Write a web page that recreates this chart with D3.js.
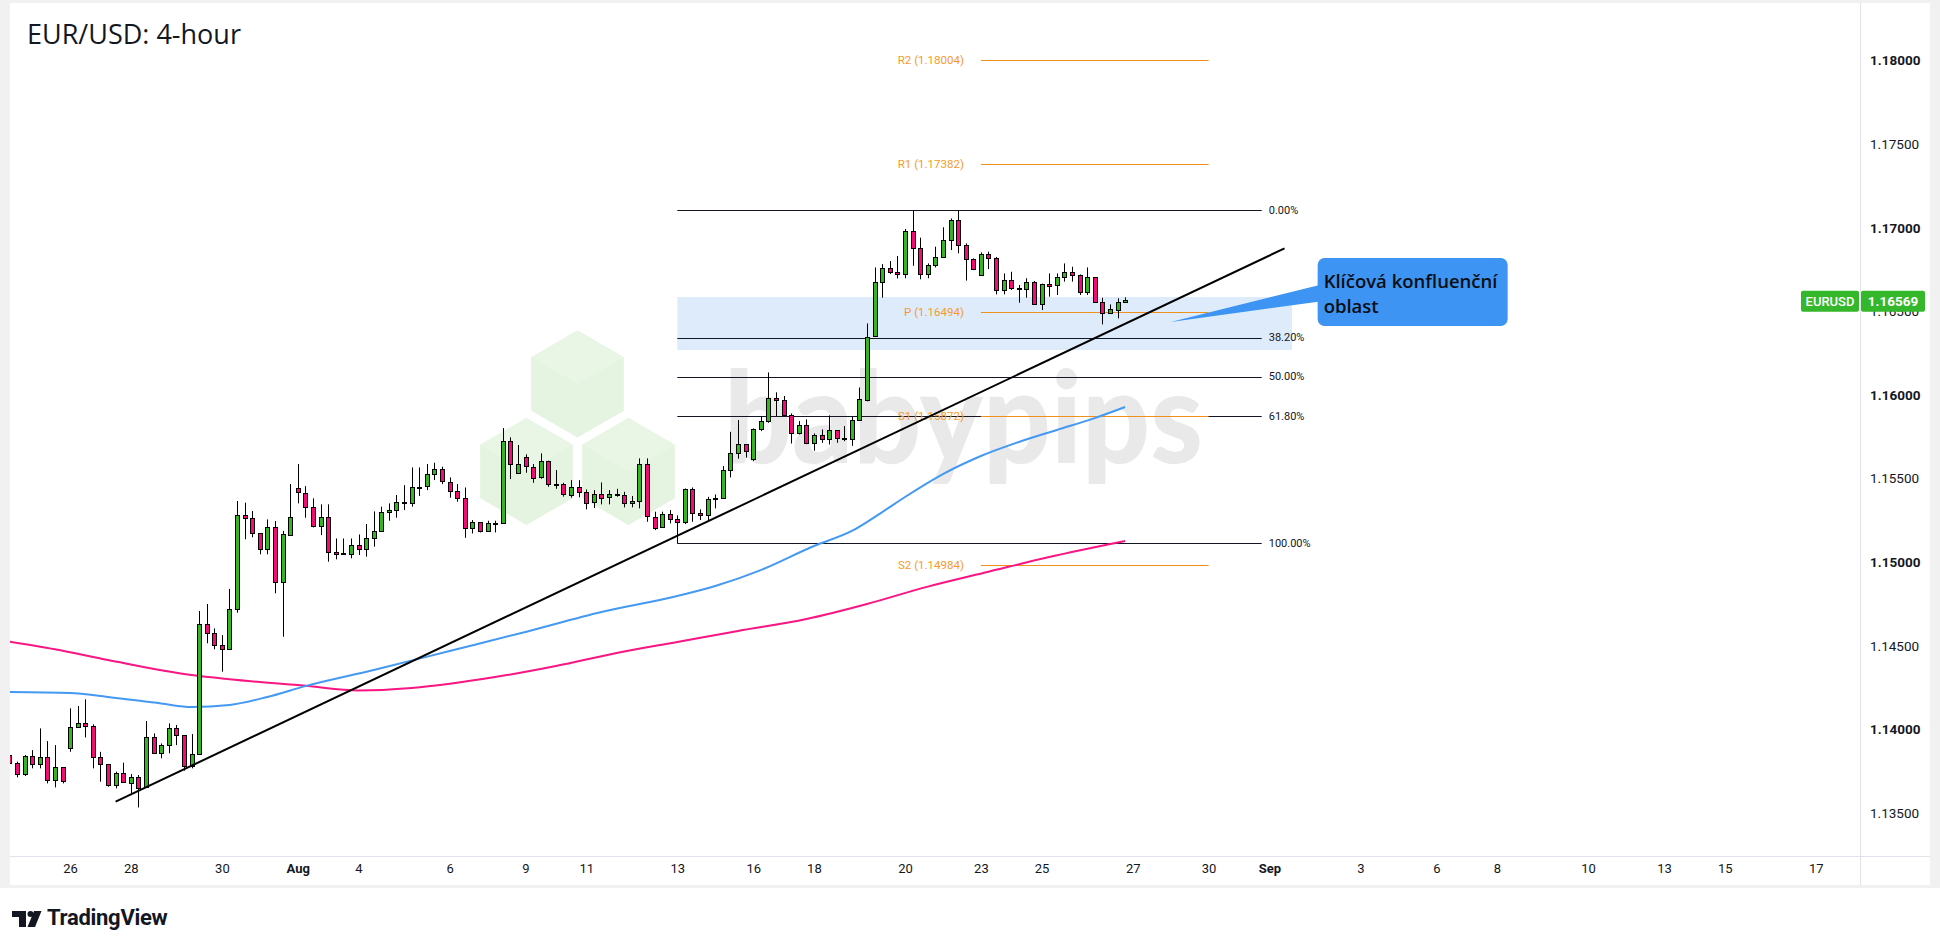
<!DOCTYPE html>
<html lang="en">
<head>
<meta charset="UTF-8">
<title>EUR/USD: 4-hour</title>
<script src="https://d3js.org/d3.v7.min.js"></script>
<style>
  html, body { margin: 0; padding: 0; background: #fff; }
  svg { display: block; }
</style>
</head>
<body>
<div id="chart"></div>
<script>
// 4h candles, bar index 0 = first bar of the "26" label
var firstIdx = -8;
var opens = [1.13847,1.13797,1.13733,1.13841,1.13793,1.13833,1.13697,1.13773,
  1.13886,1.14012,1.14036,1.14020,1.13833,1.13793,1.13667,1.13737,1.13683,1.13717,
  1.13653,1.13952,1.13857,1.13906,1.14006,1.13966,1.13781,1.13853,1.14630,1.14574,
  1.14505,1.14479,1.14718,1.15280,1.15262,1.15173,1.15077,1.15208,1.14879,1.15167,
  1.15442,1.15416,1.15332,1.15218,1.15272,1.15063,1.15053,1.15049,1.15100,1.15077,
  1.15142,1.15184,1.15298,1.15312,1.15358,1.15352,1.15447,1.15451,1.15525,1.15555,
  1.15481,1.15426,1.15382,1.15202,1.15238,1.15182,1.15232,1.15234,1.15723,1.15531,
  1.15627,1.15571,1.15505,1.15603,1.15465,1.15465,1.15406,1.15451,1.15422,1.15358,
  1.15408,1.15386,1.15406,1.15400,1.15352,1.15366,1.15585,1.15272,1.15206,1.15286,
  1.15256,1.15236,1.15435,1.15292,1.15280,1.15375,1.15381,1.15551,1.15651,1.15704,
  1.15615,1.15796,1.15844,1.15980,1.15970,1.15878,1.15770,1.15818,1.15710,1.15758,
  1.15734,1.15790,1.15740,1.15734,1.15850,1.15974,1.16349,1.16674,1.16757,1.16733,
  1.16721,1.16981,1.16877,1.16721,1.16777,1.16825,1.16927,1.17046,1.16897,1.16811,
  1.16717,1.16841,1.16821,1.16628,1.16686,1.16638,1.16634,1.16678,1.16548,1.16666,
  1.16656,1.16704,1.16733,1.16715,1.16612,1.16704,1.16554,1.16488,1.16512,1.16558];
var highs = [1.13866,1.13807,1.13847,1.13876,1.14006,1.13930,1.13906,1.13773,
  1.14126,1.14140,1.14180,1.14030,1.13866,1.13793,1.13747,1.13801,1.13733,1.13727,
  1.14050,1.13976,1.13916,1.14036,1.14026,1.13966,1.13972,1.14708,1.14750,1.14604,
  1.14564,1.14840,1.15366,1.15356,1.15306,1.15173,1.15256,1.15246,1.15187,1.15468,
  1.15587,1.15455,1.15382,1.15346,1.15346,1.15142,1.15142,1.15142,1.15166,1.15228,
  1.15304,1.15332,1.15352,1.15402,1.15461,1.15567,1.15567,1.15587,1.15595,1.15571,
  1.15507,1.15467,1.15447,1.15252,1.15240,1.15248,1.15248,1.15802,1.15747,1.15701,
  1.15645,1.15587,1.15651,1.15607,1.15551,1.15475,1.15491,1.15491,1.15435,1.15431,
  1.15477,1.15431,1.15439,1.15421,1.15396,1.15621,1.15621,1.15302,1.15302,1.15312,
  1.15280,1.15441,1.15447,1.15316,1.15391,1.15405,1.15575,1.15780,1.15850,1.15704,
  1.15800,1.15870,1.16135,1.16016,1.15994,1.15890,1.15844,1.15854,1.15770,1.15794,
  1.15878,1.15790,1.15814,1.15870,1.16045,1.16428,1.16763,1.16783,1.16801,1.16831,
  1.16993,1.17104,1.16941,1.16787,1.16887,1.17003,1.17056,1.17104,1.16907,1.16817,
  1.16853,1.16857,1.16825,1.16727,1.16737,1.16658,1.16698,1.16682,1.16666,1.16727,
  1.16727,1.16787,1.16767,1.16721,1.16763,1.16704,1.16582,1.16542,1.16578,1.16584];
var lows = [1.13637,1.13713,1.13721,1.13767,1.13767,1.13677,1.13653,1.13677,
  1.13866,1.14012,1.13952,1.13767,1.13687,1.13657,1.13647,1.13683,1.13617,1.13533,
  1.13653,1.13857,1.13827,1.13857,1.13906,1.13753,1.13767,1.13853,1.14515,1.14479,
  1.14345,1.14479,1.14698,1.15137,1.15149,1.15047,1.15047,1.14814,1.14554,1.15167,
  1.15352,1.15266,1.15208,1.15162,1.15003,1.15017,1.15049,1.15023,1.15043,1.15033,
  1.15093,1.15184,1.15248,1.15266,1.15312,1.15332,1.15396,1.15431,1.15491,1.15467,
  1.15386,1.15362,1.15146,1.15172,1.15178,1.15182,1.15178,1.15232,1.15497,1.15531,
  1.15535,1.15475,1.15499,1.15451,1.15439,1.15392,1.15386,1.15388,1.15316,1.15324,
  1.15346,1.15346,1.15392,1.15328,1.15328,1.15322,1.15242,1.15192,1.15206,1.15232,
  1.15112,1.15228,1.15242,1.15252,1.15248,1.15322,1.15381,1.15507,1.15619,1.15625,
  1.15605,1.15784,1.15834,1.15874,1.15874,1.15710,1.15764,1.15706,1.15667,1.15714,
  1.15704,1.15714,1.15724,1.15696,1.15850,1.15962,1.16349,1.16582,1.16723,1.16697,
  1.16698,1.16773,1.16692,1.16698,1.16763,1.16821,1.16867,1.16847,1.16684,1.16747,
  1.16713,1.16753,1.16602,1.16602,1.16628,1.16552,1.16582,1.16548,1.16508,1.16588,
  1.16598,1.16678,1.16678,1.16598,1.16598,1.16554,1.16422,1.16484,1.16458,1.16552];
var closes = [1.13797,1.13733,1.13841,1.13793,1.13833,1.13697,1.13773,1.13687,
  1.14012,1.14036,1.14020,1.13833,1.13793,1.13667,1.13737,1.13683,1.13717,1.13653,
  1.13952,1.13857,1.13906,1.14006,1.13966,1.13781,1.13853,1.14630,1.14574,1.14505,
  1.14479,1.14718,1.15280,1.15262,1.15173,1.15077,1.15208,1.14879,1.15167,1.15272,
  1.15416,1.15332,1.15218,1.15272,1.15063,1.15053,1.15049,1.15100,1.15077,1.15142,
  1.15184,1.15298,1.15312,1.15358,1.15355,1.15447,1.15451,1.15525,1.15555,1.15481,
  1.15426,1.15382,1.15202,1.15240,1.15182,1.15232,1.15234,1.15723,1.15585,1.15585,
  1.15571,1.15505,1.15603,1.15465,1.15467,1.15406,1.15451,1.15422,1.15358,1.15408,
  1.15386,1.15406,1.15404,1.15352,1.15366,1.15585,1.15272,1.15206,1.15286,1.15256,
  1.15238,1.15435,1.15292,1.15280,1.15375,1.15381,1.15551,1.15651,1.15704,1.15665,
  1.15796,1.15844,1.15980,1.15970,1.15878,1.15770,1.15818,1.15710,1.15758,1.15734,
  1.15790,1.15740,1.15737,1.15850,1.15974,1.16349,1.16674,1.16757,1.16733,1.16723,
  1.16981,1.16877,1.16721,1.16777,1.16825,1.16927,1.17046,1.16897,1.16811,1.16753,
  1.16841,1.16817,1.16628,1.16686,1.16638,1.16634,1.16678,1.16548,1.16666,1.16656,
  1.16704,1.16733,1.16715,1.16612,1.16704,1.16554,1.16488,1.16512,1.16558,1.16569];

// moving averages read at a few bars
var blueIdx = [-8,0,5,12,16,21,26,31,40,50,60,70,80,85,91,98,103,107,110,115,120,125,130,135,139];
var blueVal = [1.14224,1.14218,1.14194,1.14155,1.14134,1.14146,1.14194,1.14259,1.14355,1.14469,
  1.14583,1.14702,1.14798,1.14858,1.14953,1.15097,1.15187,1.15300,1.15390,1.15527,1.15635,
  1.15719,1.15791,1.15862,1.15928];
var pinkIdx = [-8,-2,5,16,21,31,38,45,56,64,72,80,88,97,105,113,121,129,139];
var pinkVal = [1.14525,1.14479,1.14415,1.14325,1.14300,1.14261,1.14233,1.14248,1.14313,1.14379,
  1.14457,1.14523,1.14589,1.14660,1.14750,1.14854,1.14943,1.15031,1.15127];

// axis ticks
var tickLabels = ["26","28","30","Aug","4","6","9","11","13","16","18","20","23","25","27","30","Sep","3","6","8","10","13","15","17"];
var tickIdx = [0,8,20,30,38,50,60,68,80,90,98,110,120,128,140,150,158,170,180,188,200,210,218,230];
var priceTicks = [1.135,1.14,1.145,1.15,1.155,1.16,1.165,1.17,1.175,1.18];

// drawings
var fibHigh = 1.17104, fibLow = 1.15112;
var fibLevels = [0, 0.382, 0.5, 0.618, 1];
var fibNames = ["0.00%","38.20%","50.00%","61.80%","100.00%"];
var fibSpan = [80, 157];
var pivotNames = ["R2","R1","P","S1","S2"];
var pivotVals = [1.18004, 1.17382, 1.16494, 1.15872, 1.14984];
var pivotSpan = [120, 150];
var zoneSpan = [80, 161];
var zonePrices = [1.16586, 1.16269];
var trendIdx = [6, 160];
var trendVal = [1.13568, 1.16877];
var noteIdx = 145, notePrice = 1.16437;
var noteLines = ["Klíčová konfluenční", "oblast"];
var lastPrice = 1.16569;

var W = 1940, H = 948;
var plot = {x0: 10, x1: 1860, y0: 3, y1: 856};

var x = d3.scaleLinear().domain([0, 230]).range([70.1, 1815.8]);
var y = d3.scaleLinear().domain([1.135, 1.18]).range([813, 60.6]);
var px = function(v) { return Math.round(v) + 0.5; };

var svg = d3.select("#chart").append("svg")
    .attr("width", W).attr("height", H)
    .style("font-family", "Roboto, 'Liberation Sans', sans-serif");

// frame
svg.append("rect").attr("width", W).attr("height", H).attr("fill", "#fff");
svg.append("rect").attr("width", W).attr("height", 888).attr("fill", "#f1f1f1");
svg.append("rect").attr("x", 10).attr("y", 3).attr("width", 1920).attr("height", 882).attr("fill", "#fff");

svg.append("clipPath").attr("id", "plotClip")
  .append("rect").attr("x", plot.x0).attr("y", plot.y0)
  .attr("width", plot.x1 - plot.x0).attr("height", plot.y1 - plot.y0);

var g = svg.append("g").attr("clip-path", "url(#plotClip)");

// watermark
var hexR = 53.5;
function hexPts(cx, cy) {
  var pts = [];
  for (var k = 0; k < 6; k++) {
    var a = Math.PI / 180 * (60 * k - 90);
    pts.push([cx + hexR * Math.cos(a), cy + hexR * Math.sin(a)]);
  }
  return pts;
}
var wm = g.append("g");
[[577.5, 384], [526.5, 471.5], [628.5, 471.5]].forEach(function(c) {
  var p = hexPts(c[0], c[1]);
  wm.append("polygon").attr("points", p.map(function(q) { return q.join(","); }).join(" "))
    .attr("fill", "#e4f4e0");
  wm.append("polygon").attr("points", [p[5], p[0], p[1], c].map(function(q) { return q.join(","); }).join(" "))
    .attr("fill", "#e9f6e6");
});
wm.append("text").attr("x", 724).attr("y", 463)
  .attr("textLength", 479).attr("lengthAdjust", "spacingAndGlyphs")
  .attr("font-family", "Lato, 'Open Sans', sans-serif").attr("font-weight", 900)
  .attr("font-size", 128).attr("fill", "#e9e9e9")
  .text("babypips");

// confluence zone
g.append("rect")
  .attr("x", x(zoneSpan[0])).attr("y", y(zonePrices[0]))
  .attr("width", x(zoneSpan[1]) - x(zoneSpan[0]))
  .attr("height", y(zonePrices[1]) - y(zonePrices[0]))
  .attr("fill", "#deebfb");

// fibonacci
var fib = fibLevels.map(function(l, k) { return {p: fibHigh - l * (fibHigh - fibLow), name: fibNames[k]}; });
g.selectAll(".fib").data(fib).enter().append("line")
  .attr("x1", x(fibSpan[0])).attr("x2", x(fibSpan[1]))
  .attr("y1", function(d) { return px(y(d.p)); }).attr("y2", function(d) { return px(y(d.p)); })
  .attr("stroke", "#131722").attr("stroke-width", 1);
g.selectAll(".fibl").data(fib).enter().append("text")
  .attr("x", x(fibSpan[1]) + 7).attr("y", function(d) { return y(d.p); })
  .attr("dominant-baseline", "central").attr("font-size", 11).attr("fill", "#131722")
  .text(function(d) { return d.name; });

// pivots
var piv = pivotVals.map(function(v, k) { return {p: v, name: pivotNames[k] + " (" + v.toFixed(5) + ")"}; });
g.selectAll(".piv").data(piv).enter().append("line")
  .attr("x1", x(pivotSpan[0])).attr("x2", x(pivotSpan[1]))
  .attr("y1", function(d) { return px(y(d.p)); }).attr("y2", function(d) { return px(y(d.p)); })
  .attr("stroke", "#f0901c").attr("stroke-width", 1);
g.selectAll(".pivl").data(piv).enter().append("text")
  .attr("x", x(pivotSpan[0]) - 17).attr("y", function(d) { return y(d.p); })
  .attr("dominant-baseline", "central").attr("text-anchor", "end")
  .attr("font-size", 11.5).attr("fill", "#f79a2a")
  .text(function(d) { return d.name; });

// moving averages
var maLine = d3.line().curve(d3.curveMonotoneX)
  .x(function(d) { return x(d[0]); }).y(function(d) { return y(d[1]); });
g.append("path").datum(pinkIdx.map(function(v, k) { return [v, pinkVal[k]]; }))
  .attr("d", maLine).attr("fill", "none").attr("stroke", "#fa1583").attr("stroke-width", 2);
g.append("path").datum(blueIdx.map(function(v, k) { return [v, blueVal[k]]; }))
  .attr("d", maLine).attr("fill", "none").attr("stroke", "#4499f2").attr("stroke-width", 2);

// candles
var candles = opens.map(function(o, k) {
  return {i: firstIdx + k, o: o, h: highs[k], l: lows[k], c: closes[k]};
});
var cg = g.selectAll(".candle").data(candles).enter().append("g");
cg.append("line")
  .attr("x1", function(d) { return px(x(d.i)); }).attr("x2", function(d) { return px(x(d.i)); })
  .attr("y1", function(d) { return y(d.h); }).attr("y2", function(d) { return y(d.l); })
  .attr("stroke", "#000").attr("stroke-width", 1);
cg.append("rect")
  .attr("x", function(d) { return px(x(d.i)) - 2; })
  .attr("width", 4)
  .attr("y", function(d) { return px(y(Math.max(d.o, d.c))); })
  .attr("height", function(d) { return Math.max(1, Math.round(y(Math.min(d.o, d.c)) - y(Math.max(d.o, d.c)))); })
  .attr("fill", function(d) { return d.c >= d.o ? "#34b521" : "#f50a7a"; })
  .attr("stroke", "#000").attr("stroke-width", 1);

// trend line
g.append("line")
  .attr("x1", x(trendIdx[0])).attr("y1", y(trendVal[0]))
  .attr("x2", x(trendIdx[1])).attr("y2", y(trendVal[1]))
  .attr("stroke", "#000").attr("stroke-width", 2);

// callout
var ax = x(noteIdx), ay = y(notePrice);
var bx = ax + 147, by = 258, bw = 190, bh = 68;
var note = svg.append("g");
note.append("polygon")
  .attr("points", [[ax, ay], [bx + 6, by + 26], [bx + 6, by + 43]].map(function(q) { return q.join(","); }).join(" "))
  .attr("fill", "#3d94f2");
note.append("rect").attr("x", bx).attr("y", by).attr("width", bw).attr("height", bh)
  .attr("rx", 7).attr("fill", "#3d94f2");
note.selectAll("text").data(noteLines).enter().append("text")
  .attr("x", bx + 6).attr("y", function(d, k) { return by + 30 + k * 25; })
  .attr("font-family", "'Open Sans', sans-serif").attr("font-weight", 600)
  .attr("font-size", 18.5).attr("fill", "#0b0e14")
  .text(function(d) { return d; });

// separators
svg.append("line").attr("x1", 1860.5).attr("x2", 1860.5).attr("y1", 3).attr("y2", 885)
  .attr("stroke", "#e0e3eb");
svg.append("line").attr("x1", 10).attr("x2", 1930).attr("y1", 856.5).attr("y2", 856.5)
  .attr("stroke", "#e0e3eb");

// price axis
var yAxis = svg.append("g").attr("transform", "translate(1870,0)")
  .call(d3.axisRight(y).tickValues(priceTicks).tickSize(0).tickPadding(0).tickFormat(d3.format(".5f")));
yAxis.select(".domain").remove();
yAxis.selectAll("text")
  .attr("font-family", "Roboto, 'Liberation Sans', sans-serif")
  .attr("font-size", 13.5).attr("fill", "#131722")
  .attr("font-weight", function(d) { return Math.abs(d * 100 - Math.round(d * 100)) < 1e-6 ? 700 : 400; });

// time axis
var xAxis = svg.append("g").attr("transform", "translate(0,856)")
  .call(d3.axisBottom(x).tickValues(tickIdx).tickSize(0).tickPadding(8)
    .tickFormat(function(d, k) { return tickLabels[k]; }));
xAxis.select(".domain").remove();
xAxis.selectAll("text")
  .attr("font-family", "Roboto, 'Liberation Sans', sans-serif")
  .attr("font-size", 13).attr("fill", "#131722")
  .attr("font-weight", function(d, k) { return /[A-Za-z]/.test(tickLabels[k]) ? 700 : 400; });

// last price label
var ly = y(lastPrice) + 1.5;
var lab = svg.append("g");
lab.append("rect").attr("x", 1801).attr("y", ly - 10.5).attr("width", 58).attr("height", 21)
  .attr("rx", 2).attr("fill", "#35b72b");
lab.append("rect").attr("x", 1861).attr("y", ly - 10.5).attr("width", 64).attr("height", 21)
  .attr("rx", 2).attr("fill", "#35b72b");
lab.append("text").attr("x", 1830).attr("y", ly).attr("text-anchor", "middle")
  .attr("dominant-baseline", "central").attr("font-size", 13).attr("font-weight", 500)
  .attr("fill", "#fff").text("EURUSD");
lab.append("text").attr("x", 1893).attr("y", ly).attr("text-anchor", "middle")
  .attr("dominant-baseline", "central").attr("font-size", 13.5).attr("font-weight", 700)
  .attr("fill", "#fff").text(lastPrice.toFixed(5));

// title
svg.append("text").attr("x", 27).attr("y", 44)
  .attr("font-family", "'Open Sans', sans-serif").attr("font-size", 27).attr("fill", "#131722")
  .text("EUR/USD: 4-hour");

// TradingView logo
var logo = svg.append("g").attr("fill", "#131722");
logo.append("path").attr("d", "M12,911 H26 V927 H19 V917 H12 Z");
logo.append("circle").attr("cx", 30.5).attr("cy", 914).attr("r", 3);
logo.append("path").attr("d", "M34,911 H41.5 L35,927 H27.5 Z");
logo.append("text").attr("x", 47).attr("y", 925)
  .attr("font-family", "Roboto, 'Liberation Sans', sans-serif").attr("font-weight", 700)
  .attr("font-size", 22).attr("letter-spacing", -0.3).text("TradingView");
</script>
</body>
</html>
